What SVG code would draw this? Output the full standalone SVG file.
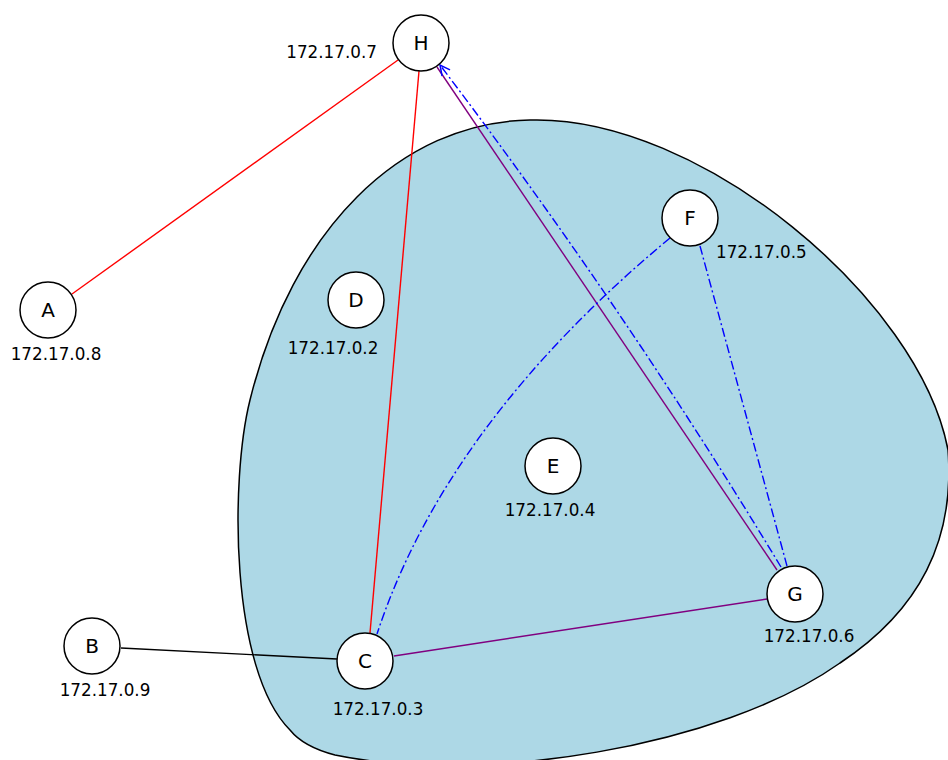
<svg xmlns="http://www.w3.org/2000/svg" width="948" height="760" viewBox="0 0 948 760">
<style>
.node circle{fill:#fff;stroke:#000;stroke-width:1.5}
.node text.n{font-family:"DejaVu Sans",sans-serif;font-size:20px;text-anchor:middle;dominant-baseline:central}
text.ip{font-family:"DejaVu Sans",sans-serif;font-size:16.8px;fill:#000}
.e{fill:none;stroke-width:1.4}
.red{stroke:#f00}
.blk{stroke:#000}
.pur{stroke:#800080}
.blu{stroke:#00f;stroke-dasharray:9,3,2,3}
</style>
<defs>
<marker id="arr" viewBox="0 0 12 12" refX="11" refY="6" markerWidth="12" markerHeight="12" markerUnits="userSpaceOnUse" orient="auto">
<path d="M1,1 L11,6 L1,11" fill="none" stroke="#00f" stroke-width="1.5"/>
</marker>
</defs>
<path id="cluster" d="M 530 120 C 700 115, 920 300, 948 450 C 955 540, 920 610, 840 663 C 720 748, 480 785, 335 755 C 312 749, 298 740, 290 730 C 230 670, 230 480, 250 400 C 292 230, 400 122, 530 120 Z" fill="#add8e6" stroke="#000" stroke-width="1.5"/>
<g id="connectors">
<line class="e red" x1="398" y1="60" x2="72" y2="294"/>
<line class="e red" x1="419" y1="71" x2="370" y2="633"/>
<line class="e blk" x1="121" y1="648" x2="337" y2="659"/>
<line class="e pur" x1="394" y1="656" x2="767" y2="599"/>
<line class="e pur" x1="437" y1="67" x2="777" y2="570"/>
<path class="e blu" d="M 781 567 Q 624 307 440 65" marker-end="url(#arr)"/>
<line class="e blu" x1="700" y1="246" x2="787" y2="566"/>
<path class="e blu" d="M 670 238 Q 446 424 377 634"/>
</g>
<g id="H" class="node"><circle cx="421" cy="43" r="28"/><text class="n" x="421" y="43">H</text><text class="ip" x="377" y="58" text-anchor="end">172.17.0.7</text></g>
<g id="A" class="node"><circle cx="48" cy="310" r="28"/><text class="n" x="48" y="310">A</text><text class="ip" x="56" y="360" text-anchor="middle">172.17.0.8</text></g>
<g id="D" class="node"><circle cx="356" cy="300" r="28"/><text class="n" x="356" y="300">D</text><text class="ip" x="333" y="354" text-anchor="middle">172.17.0.2</text></g>
<g id="F" class="node"><circle cx="690" cy="218" r="28"/><text class="n" x="690" y="218">F</text><text class="ip" x="716" y="258">172.17.0.5</text></g>
<g id="E" class="node"><circle cx="553" cy="466" r="28"/><text class="n" x="553" y="466">E</text><text class="ip" x="550" y="516" text-anchor="middle">172.17.0.4</text></g>
<g id="G" class="node"><circle cx="795" cy="594" r="28"/><text class="n" x="795" y="594">G</text><text class="ip" x="809" y="642" text-anchor="middle">172.17.0.6</text></g>
<g id="C" class="node"><circle cx="365" cy="661" r="28"/><text class="n" x="365" y="661">C</text><text class="ip" x="378" y="715" text-anchor="middle">172.17.0.3</text></g>
<g id="B" class="node"><circle cx="92" cy="646" r="28"/><text class="n" x="92" y="646">B</text><text class="ip" x="105" y="696" text-anchor="middle">172.17.0.9</text></g>
</svg>
